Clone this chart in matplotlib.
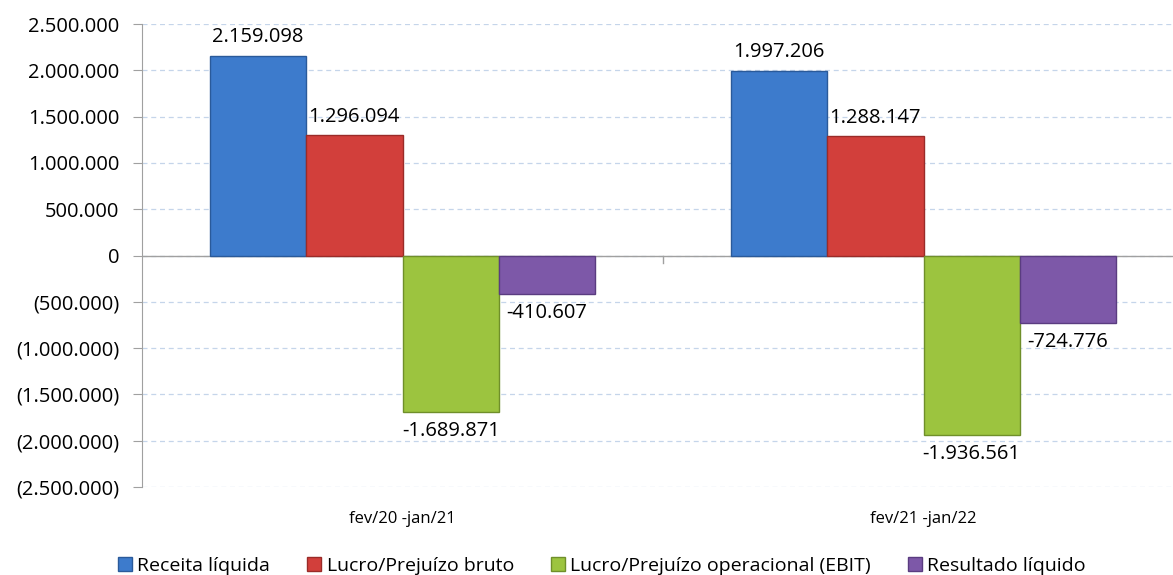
import numpy as np
import matplotlib.pyplot as plt
from matplotlib.ticker import FuncFormatter

plt.rcParams['font.family'] = ['Open Sans', 'DejaVu Sans']

periods = ['fev/20 -jan/21', 'fev/21 -jan/22']
series = ['Receita líquida', 'Lucro/Prejuízo bruto',
          'Lucro/Prejuízo operacional (EBIT)', 'Resultado líquido']
receita = [2159098, 1997206]
lucro_bruto = [1296094, 1288147]
ebit = [-1689871, -1936561]
resultado = [-410607, -724776]
colors = ['#3d7bcc', '#d23f3b', '#9cc43f', '#7d58a8']
edges = ['#2a5a9a', '#9a2b28', '#6f8f2a', '#5a3c80']


def br(v):
    return '{:,.0f}'.format(v).replace(',', '.')


def ytick(v, pos):
    if v < 0:
        return '(' + br(-v) + ')'
    return br(v)


fig = plt.figure(figsize=(11.73, 5.75), dpi=100)
ax = fig.add_axes([142/1173, 1 - 487/575, (1173 - 142)/1173, (487 - 24)/575])

x = np.arange(len(periods))
w = 0.185
values = [receita, lucro_bruto, ebit, resultado]
handles = []
for i, vals in enumerate(values):
    pos = x + (i - 1.5) * w
    b = ax.bar(pos, vals, w, color=colors[i], edgecolor=edges[i], linewidth=1,
               label=series[i], zorder=3)
    handles.append(b)
    for p, v in zip(pos, vals):
        if v >= 0:
            ax.text(p, v + 90000, br(v), ha='center', va='bottom', fontsize=14.5)
        else:
            ax.text(p, v - 100000, '-' + br(-v), ha='center', va='top', fontsize=14.5)

ax.set_ylim(-2500000, 2500000)
ax.set_xlim(-0.5, (1173 - 142) / 521 - 0.5)
ax.set_yticks(np.arange(-2500000, 2500001, 500000))
ax.yaxis.set_major_formatter(FuncFormatter(ytick))
ax.grid(axis='y', color='#c5d5ea', linestyle=(0, (4, 3)), linewidth=0.9, zorder=0)
ax.axhline(0, color='#a0a0a0', linewidth=1, zorder=2)

ax.set_xticks(x)
ax.set_xticklabels(periods, fontsize=12)
ax.tick_params(axis='x', length=0, pad=17)
ax.tick_params(axis='y', labelsize=14.5, color='#a0a0a0', length=6.5, pad=10)
for s in ['top', 'right', 'bottom']:
    ax.spines[s].set_visible(False)
ax.spines['left'].set_color('#a0a0a0')
# separator tick between categories on the zero line
ax.plot([0.5, 0.5], [0, -80000], color='#a0a0a0', linewidth=1)

fig.legend(handles=handles, loc='center', bbox_to_anchor=(602/1173, 9/575), ncol=4,
           frameon=False, fontsize=14, handlelength=0.7, handleheight=0.7,
           handletextpad=0.3, columnspacing=1.9, borderpad=0)

fig.savefig('out.png', dpi=100)
